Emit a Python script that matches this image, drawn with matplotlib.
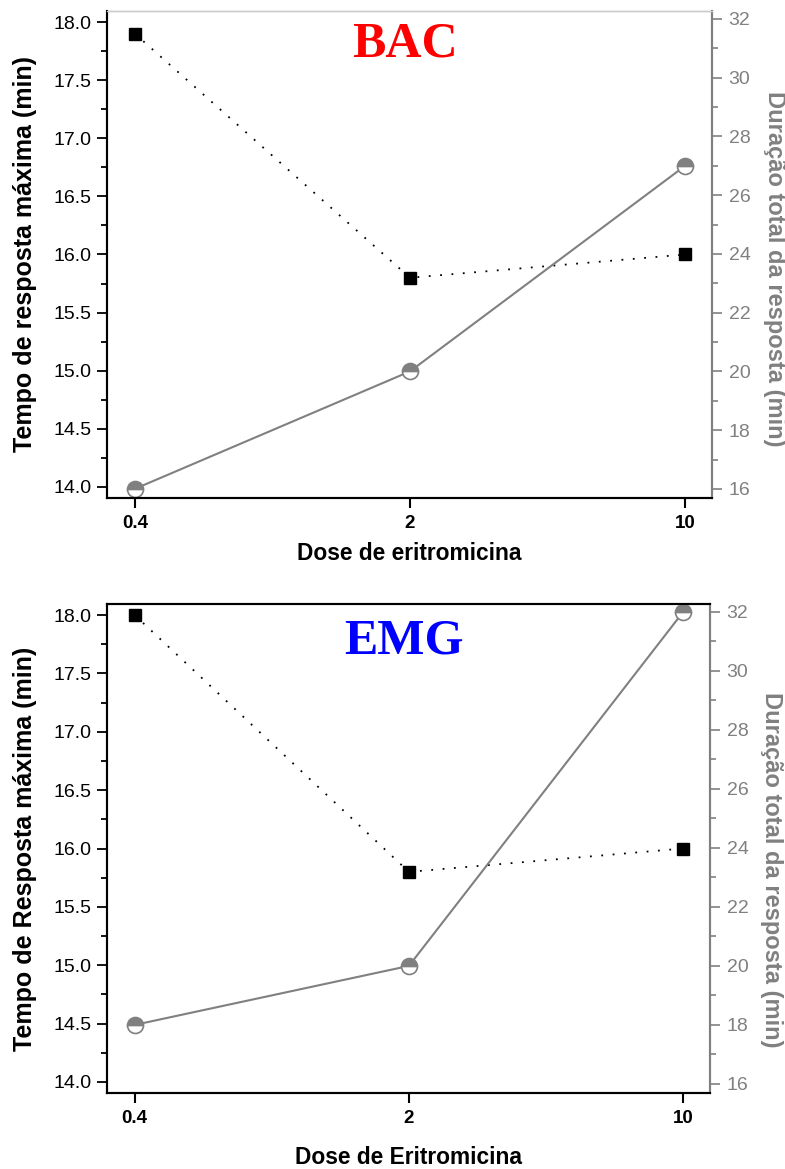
import matplotlib
matplotlib.use('Agg')
import matplotlib.pyplot as plt
from matplotlib.ticker import MultipleLocator, FixedLocator, NullLocator, FormatStrFormatter

doses = [0.4, 2, 10]
doseLabels = ['0.4', '2', '10']

bacTempo = [17.9, 15.8, 16.0]
bacDuracao = [16, 20, 27]
emgTempo = [18.0, 15.8, 16.0]
emgDuracao = [18, 20, 32]

panelTitles = ['BAC', 'EMG']
titleColors = ['red', 'blue']
leftLabels = ['Tempo de resposta máxima (min)', 'Tempo de Resposta máxima (min)']
rightLabel = 'Duração total da resposta (min)'
xLabels = ['Dose de eritromicina', 'Dose de Eritromicina']

gray = '#808080'
plt.rcParams['font.family'] = ['Liberation Sans', 'DejaVu Sans']

fig = plt.figure(figsize=(7.85, 11.69), dpi=100)
axRects = [[0.1363, 0.574, 0.7707, 0.4166], [0.1363, 0.065, 0.768, 0.4183]]
tempoData = [bacTempo, emgTempo]
duracaoData = [bacDuracao, emgDuracao]
titleY = [0.932, 0.923]
xlabelY = [-0.113, -0.131]
rightLabelY = [0.47, 0.457]

for i in range(2):
    ax = fig.add_axes(axRects[i])
    ax2 = ax.twinx()

    ax.plot(doses, tempoData[i], color='black', linestyle=(0, (1, 5.3)), linewidth=1.3,
            marker='s', markersize=8, zorder=3)
    ax2.plot(doses, duracaoData[i], color=gray, linestyle='-', linewidth=1.5,
             marker='o', markersize=11.5, fillstyle='top', markerfacecolor=gray,
             markerfacecoloralt='white', markeredgecolor=gray, markeredgewidth=1.2)

    ax.set_xscale('log')
    ax.set_xlim(0.34, 11.7)
    ax.xaxis.set_major_locator(FixedLocator(doses))
    ax.xaxis.set_minor_locator(NullLocator())
    ax.set_xticklabels(doseLabels, fontweight='bold', fontsize=13.5)

    ax.set_ylim(13.905, 18.095)
    ax.yaxis.set_major_locator(MultipleLocator(0.5))
    ax.yaxis.set_minor_locator(MultipleLocator(0.25))
    ax.yaxis.set_major_formatter(FormatStrFormatter('%.1f'))

    ax2.set_ylim(15.69, 32.27)
    ax2.yaxis.set_major_locator(MultipleLocator(2))
    ax2.yaxis.set_minor_locator(MultipleLocator(1))
    ax2.tick_params(axis='y', which='both', colors=gray, labelsize=14, direction='out')
    ax2.tick_params(axis='y', which='major', length=7, width=1.2, pad=5)
    ax2.tick_params(axis='y', which='minor', length=4, width=1.2)

    ax.tick_params(axis='y', which='major', direction='out', length=7, width=1.3,
                   labelsize=14, pad=4)
    ax.tick_params(axis='y', which='minor', direction='out', length=4, width=1.3)
    ax.tick_params(axis='x', which='major', direction='out', length=7, width=1.5, pad=5)

    for a in (ax, ax2):
        a.spines['left'].set_linewidth(1.5)
        a.spines['bottom'].set_linewidth(1.5)
        a.spines['right'].set_color(gray)
        a.spines['right'].set_linewidth(1.5)
        if i == 0:
            a.spines['top'].set_color('#cccccc')
            a.spines['top'].set_linewidth(1.0)
        else:
            a.spines['top'].set_linewidth(1.5)

    ax.set_ylabel(leftLabels[i], fontsize=18, fontweight='bold', ha='center', va='center')
    ax.yaxis.set_label_coords(-0.136, 0.5)
    ax2.set_ylabel(rightLabel, fontsize=17, fontweight='bold', color=gray,
                   rotation=270, ha='center', va='center')
    ax2.yaxis.set_label_coords(1.103, rightLabelY[i])
    ax.set_xlabel(xLabels[i], fontweight='bold', fontsize=16.4, va='center')
    ax.xaxis.set_label_coords(0.5, xlabelY[i])

    ax.text(0.493, titleY[i], panelTitles[i], transform=ax.transAxes, ha='center', va='center',
            fontfamily='Liberation Serif', fontweight='bold', fontsize=36,
            color=titleColors[i])

fig.savefig('out.png', dpi=100)
